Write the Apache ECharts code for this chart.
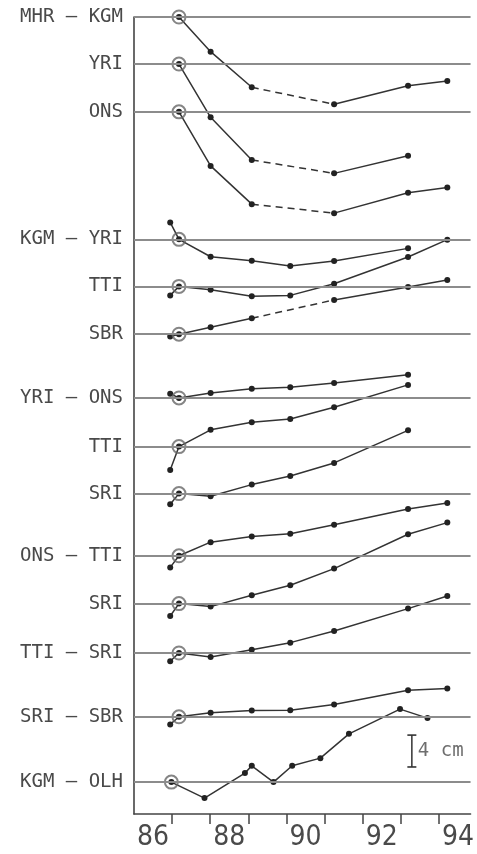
<!DOCTYPE html>
<html>
<head>
<meta charset="utf-8">
<script src="https://cdn.jsdelivr.net/npm/echarts@6/dist/echarts.min.js"></script>
<style>
html,body{margin:0;padding:0;background:#fff;overflow:hidden;width:100%;height:100%;}
#chart{position:absolute;left:0;top:0;width:100vw;height:100vh;}
</style>
</head>
<body>
<div id="chart"></div>
<script>
// ---- data ----
// measurement epochs (decimal years, 19xx)
const epochs = [86.45, 86.68, 87.51, 88.59, 89.60, 90.75, 92.69, 93.72];
const olhEpochs = [86.48, 87.35, 88.41, 88.59, 89.16, 89.65, 90.39, 91.14, 92.48, 93.20];

// row labels (top to bottom)
const rowLabels = ["MHR – KGM", "YRI", "ONS", "KGM – YRI", "TTI", "SBR", "YRI – ONS", "TTI", "SRI", "ONS – TTI", "SRI", "TTI – SRI", "SRI – SBR", "KGM – OLH"];

// distance changes in cm relative to reference epoch
const mhrKgm = [null, 0, -4.35, -8.82, null, -10.95, -8.62, -8.03];
const mhrYri = [null, 0, -6.69, -12.04, null, -13.72, -11.50, null];
const mhrOns = [null, 0, -6.78, -11.58, null, -12.71, -10.16, -9.49];
const kgmYri = [2.13, 0, -2.18, -2.68, -3.35, -2.72, -1.13, null];
const kgmTti = [-1.13, 0, -0.42, -1.25, -1.13, 0.33, 3.68, 5.86];
const kgmSbr = [-0.29, 0, 0.88, 2.00, null, 4.30, 5.93, 6.80];
const yriOns = [0.54, 0, 0.63, 1.17, 1.33, 1.88, 2.92, null];
const yriTti = [-2.93, 0, 2.10, 3.05, 3.47, 4.93, 7.74, null];
const yriSri = [-1.34, 0, -0.34, 1.13, 2.21, 3.85, 7.94, null];
const onsTti = [-1.46, 0, 1.71, 2.42, 2.76, 3.89, 5.86, 6.61];
const onsSri = [-1.55, 0, -0.38, 1.04, 2.30, 4.39, 8.70, 10.16];
const ttiSri = [-1.04, 0, -0.50, 0.42, 1.30, 2.76, 5.57, 7.15];
const sriSbr = [-0.96, 0, 0.50, 0.79, 0.83, 1.54, 3.34, 3.55];
const kgmOlh = [0, -2.00, 1.13, 2.05, 0, 2.05, 3.01, 6.06, 9.16, 8.03];

// tick labels
const xTickLabels = [86, 88, 90, 92, 94];
const xMinorTicks = [86.5, 87.5, 88.5, 89.5, 90.5, 91.5, 92.5, 93.5];
const scaleBarCm = 4;

// ---- layout (row baselines in cm on the plotting scale) ----
const baselines = [100, 94.1, 88.1, 72.1, 66.2, 60.2, 52.2, 46.1, 40.2, 32.4, 26.4, 20.2, 12.2, 4];
const rows = [
  {x: epochs, v: mhrKgm, dash: [3, 5]},
  {x: epochs, v: mhrYri, dash: [3, 5]},
  {x: epochs, v: mhrOns, dash: [3, 5]},
  {x: epochs, v: kgmYri},
  {x: epochs, v: kgmTti},
  {x: epochs, v: kgmSbr, dash: [3, 5]},
  {x: epochs, v: yriOns},
  {x: epochs, v: yriTti},
  {x: epochs, v: yriSri},
  {x: epochs, v: onsTti},
  {x: epochs, v: onsSri},
  {x: epochs, v: ttiSri},
  {x: epochs, v: sriSbr},
  {x: olhEpochs, v: kgmOlh}
];

const LINE = '#333';
const DOT = '#222';
const TXT = '#4a4a4a';
const series = [];

series.push({
  type: 'line', data: [], z: 1, silent: true,
  markLine: {
    silent: true, symbol: 'none', label: {show: false},
    lineStyle: {color: '#8c8c8c', width: 1.8, type: 'solid'},
    animation: false,
    data: baselines.map(b => ({yAxis: b}))
  }
});

const anchors = [];
rows.forEach((r, i) => {
  const base = baselines[i];
  const solid = [];
  let prevIdx = -1;
  for (let k = 0; k < r.v.length; k++) {
    if (r.v[k] === null) continue;
    if (r.dash && prevIdx === r.dash[0] && k === r.dash[1]) {
      solid.push([(r.x[prevIdx] + r.x[k]) / 2, '-']);
    }
    solid.push([r.x[k], base + r.v[k]]);
    if (r.v[k] === 0 && k === r.v.indexOf(0)) anchors.push([r.x[k], base]);
    prevIdx = k;
  }
  series.push({
    type: 'line', data: solid, z: 3, clip: false, connectNulls: false,
    symbol: 'circle', symbolSize: 6, showAllSymbol: true,
    itemStyle: {color: DOT}, lineStyle: {color: LINE, width: 1.5},
    animation: false
  });
  if (r.dash) {
    const a = r.dash[0], b = r.dash[1];
    series.push({
      type: 'line', z: 3, clip: false,
      data: [[r.x[a], base + r.v[a]], [r.x[b], base + r.v[b]]],
      showSymbol: false,
      lineStyle: {color: LINE, width: 1.5, type: [7, 5]},
      animation: false
    });
  }
});

series.push({
  type: 'scatter', data: anchors, z: 4, clip: false,
  symbol: 'circle', symbolSize: 13,
  itemStyle: {color: 'rgba(0,0,0,0)', borderColor: '#666', borderWidth: 2},
  animation: false
});

// scale bar (4 cm)
const sbX = 92.79, sbY0 = 5.9;
series.push({
  type: 'line', z: 3, clip: false,
  data: [[sbX, sbY0], [sbX, sbY0 + scaleBarCm]],
  symbol: 'rect', symbolSize: [9, 1.6], showAllSymbol: true,
  itemStyle: {color: LINE}, lineStyle: {color: LINE, width: 1.5},
  animation: false
});
series.push({
  type: 'scatter', z: 3, clip: false,
  data: [[sbX, sbY0 + scaleBarCm / 2]], symbolSize: 0,
  label: {show: true, position: 'right', distance: 6, formatter: scaleBarCm + ' cm',
    fontFamily: 'DejaVu Sans Mono', fontSize: 19, color: TXT},
  animation: false
});

const labelMap = {};
baselines.forEach((b, i) => { labelMap[b] = rowLabels[i]; });

const chart = echarts.init(document.getElementById('chart'), null, {renderer: 'canvas'});
chart.setOption({
  backgroundColor: '#fff',
  animation: false,
  grid: {left: 134, right: 0, top: 17, bottom: 40, containLabel: false},
  xAxis: {
    type: 'value', min: 85.5, max: 94.33,
    axisLine: {show: true, onZero: false, lineStyle: {color: '#444', width: 1.6}},
    axisTick: {show: true, inside: false, length: 10, customValues: xMinorTicks,
      lineStyle: {color: '#444', width: 1.5}},
    axisLabel: {customValues: xTickLabels, margin: 10, fontSize: 28,
      fontFamily: "'Liberation Sans Narrow', 'DejaVu Sans Condensed', sans-serif", color: TXT,
      formatter: v => String(v)},
    splitLine: {show: false}
  },
  yAxis: {
    type: 'value', min: 0, max: 100,
    axisLine: {show: true, lineStyle: {color: '#444', width: 1.6}},
    axisTick: {show: false},
    axisLabel: {customValues: baselines, margin: 11, fontSize: 19,
      fontFamily: 'DejaVu Sans Mono', color: TXT,
      formatter: v => labelMap[v] || ''},
    splitLine: {show: false}
  },
  series: series
});
</script>
</body>
</html>
